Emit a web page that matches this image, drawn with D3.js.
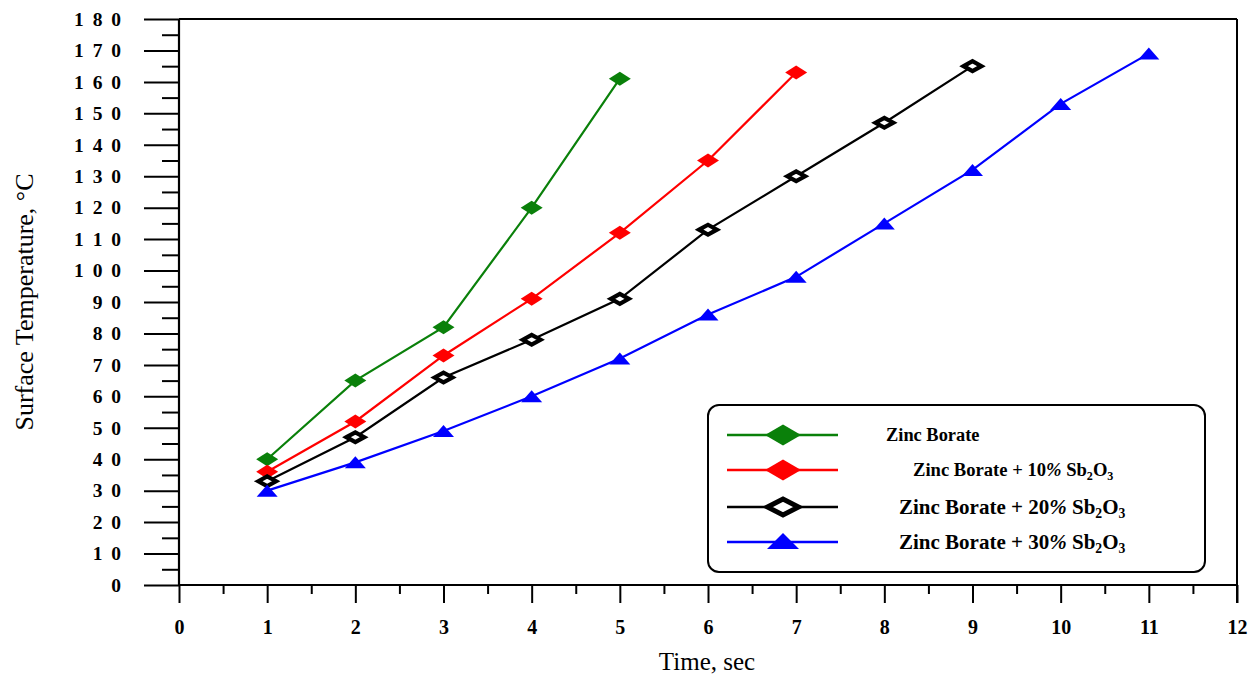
<!DOCTYPE html>
<html>
<head>
<meta charset="utf-8">
<script src="https://cdn.jsdelivr.net/npm/d3@7"></script>
<style>
  html, body { margin: 0; padding: 0; background: #fff; }
  svg { display: block; font-family: "Liberation Serif", "Times New Roman", serif; }
</style>
</head>
<body>
<svg id="chart" width="1248" height="677"></svg>
<script>
// Surface temperature vs time for zinc borate formulations
const timeSec = [1, 2, 3, 4, 5, 6, 7, 8, 9, 10, 11];
const zincBorate = [40, 65, 82, 120, 161];
const zb10 = [36, 52, 73, 91, 112, 135, 163];
const zb20 = [33, 47, 66, 78, 91, 113, 130, 147, 165];
const zb30 = [30, 39, 49, 60, 72, 86, 98, 115, 132, 153, 169];
const xTicks = [0, 1, 2, 3, 4, 5, 6, 7, 8, 9, 10, 11, 12];
const yTicks = [0, 10, 20, 30, 40, 50, 60, 70, 80, 90, 100, 110, 120, 130, 140, 150, 160, 170, 180];

const seriesNames = ["Zinc Borate", "Zinc Borate + 10% Sb2O3", "Zinc Borate + 20% Sb2O3", "Zinc Borate + 30% Sb2O3"];
const seriesValues = [zincBorate, zb10, zb20, zb30];
const seriesColors = ["#0a800a", "#ff0000", "#000000", "#0000ff"];
const seriesMarkers = ["diamond", "diamond", "hollowDiamond", "triangle"];

const svg = d3.select("#chart");
const x = d3.scaleLinear().domain([0, 12]).range([179, 1237]);
const y = d3.scaleLinear().domain([0, 180]).range([585, 19]);

// frame: top and right edges
svg.append("line").attr("x1", x(0)).attr("x2", x(12)).attr("y1", y(180)).attr("y2", y(180))
  .attr("stroke", "#000").attr("stroke-width", 2);
svg.append("line").attr("x1", x(12)).attr("x2", x(12)).attr("y1", y(180)).attr("y2", y(0) + 18)
  .attr("stroke", "#000").attr("stroke-width", 2);

// y axis: major ticks with spaced digit labels, minor ticks at half steps
const yMinor = d3.range(5, 180, 10);
svg.append("g").attr("transform", `translate(${x(0)},0)`)
  .call(d3.axisLeft(y).tickValues(yMinor).tickSize(17).tickFormat(""))
  .call(g => g.select(".domain").remove())
  .call(g => g.selectAll("line").attr("stroke-width", 2));
const yAxis = svg.append("g").attr("transform", `translate(${x(0)},0)`)
  .call(d3.axisLeft(y).tickValues(yTicks).tickSize(35).tickPadding(23)
    .tickFormat(d => String(d).split("").join(" ")));
yAxis.select(".domain").attr("stroke-width", 2.2).attr("d", `M-0,${y(0)}V${y(180)}`);
yAxis.selectAll("line").attr("stroke-width", 2);
yAxis.selectAll("text").attr("font-size", 19.5).attr("font-weight", "bold")
  .attr("font-family", "Liberation Serif").attr("fill", "#000")
  .style("word-spacing", "4px");

// x axis
const xMinor = d3.range(0.5, 12, 1);
svg.append("g").attr("transform", `translate(0,${y(0)})`)
  .call(d3.axisBottom(x).tickValues(xMinor).tickSize(9).tickFormat(""))
  .call(g => g.select(".domain").remove())
  .call(g => g.selectAll("line").attr("stroke-width", 2));
const xAxis = svg.append("g").attr("transform", `translate(0,${y(0)})`)
  .call(d3.axisBottom(x).tickValues(xTicks).tickSize(18).tickPadding(17).tickFormat(d3.format("d")));
xAxis.select(".domain").attr("stroke-width", 2.2).attr("d", `M${x(0)},0H${x(12)}`);
xAxis.selectAll("line").attr("stroke-width", 2);
xAxis.selectAll("text").attr("font-size", 20).attr("font-weight", "bold")
  .attr("font-family", "Liberation Serif").attr("fill", "#000");

// axis titles
svg.append("text").attr("x", 707).attr("y", 670).attr("text-anchor", "middle")
  .attr("font-size", 25).text("Time, sec");
svg.append("text").attr("transform", "translate(33,302) rotate(-90)").attr("text-anchor", "middle")
  .attr("font-size", 26).text("Surface Temperature, \u00B0C");

// marker drawing
function drawMarker(g, type, color, w, h, sw) {
  if (type === "triangle") {
    g.append("path").attr("d", `M0,${-h / 2}L${w / 2},${h / 2}L${-w / 2},${h / 2}Z`).attr("fill", color);
  } else if (type === "hollowDiamond") {
    const hw = w / 2 - sw / 2, hh = h / 2 - sw / 2;
    g.append("path").attr("d", `M${-hw},0L0,${-hh}L${hw},0L0,${hh}Z`)
      .attr("fill", "#fff").attr("stroke", color).attr("stroke-width", sw);
  } else {
    g.append("path").attr("d", `M${-w / 2},0L0,${-h / 2}L${w / 2},0L0,${h / 2}Z`).attr("fill", color);
  }
}

const line = d3.line().x((d, i) => x(timeSec[i])).y(d => y(d));
seriesValues.forEach((vals, s) => {
  svg.append("path").datum(vals).attr("d", line).attr("fill", "none")
    .attr("stroke", seriesColors[s]).attr("stroke-width", 2.2);
});
seriesValues.forEach((vals, s) => {
  vals.forEach((v, i) => {
    const g = svg.append("g").attr("transform", `translate(${x(timeSec[i])},${y(v)})`);
    if (seriesMarkers[s] === "triangle") drawMarker(g, "triangle", seriesColors[s], 21, 12);
    else drawMarker(g, seriesMarkers[s], seriesColors[s], 22, 14, 4.2);
  });
});

// legend
svg.append("rect").attr("x", 708).attr("y", 405).attr("width", 497).attr("height", 167)
  .attr("rx", 11).attr("ry", 11).attr("fill", "#fff").attr("stroke", "#000").attr("stroke-width", 2);
const legendRows = [
  { y: 435, tx: 886, fs: 18.4 },
  { y: 470, tx: 913, fs: 18.6 },
  { y: 507, tx: 899, fs: 21 },
  { y: 542, tx: 899, fs: 21 }
];
legendRows.forEach((r, s) => {
  svg.append("line").attr("x1", 727).attr("x2", 838).attr("y1", r.y).attr("y2", r.y)
    .attr("stroke", seriesColors[s]).attr("stroke-width", 2.5);
  if (seriesMarkers[s] === "triangle") {
    const gt = svg.append("g").attr("transform", `translate(783,${r.y - 1})`);
    drawMarker(gt, "triangle", seriesColors[s], 32, 16);
  } else {
    const g = svg.append("g").attr("transform", `translate(783,${r.y})`);
    drawMarker(g, seriesMarkers[s], seriesColors[s], 36, 21, 5);
  }

  const t = svg.append("text").attr("x", r.tx).attr("y", r.y + r.fs * 0.33)
    .attr("font-size", r.fs).attr("font-weight", "bold");
  const name = seriesNames[s];
  const m = name.match(/^(.*?)(\d+)%(.*)Sb2O3$/);
  if (m) {
    t.append("tspan").text(m[1] + m[2]);
    t.append("tspan").attr("font-style", "italic").text("%");
    t.append("tspan").text(m[3] + "Sb");
    t.append("tspan").attr("font-size", r.fs * 0.65).attr("dy", r.fs * 0.2).text("2");
    t.append("tspan").attr("dy", -r.fs * 0.2).text("O");
    t.append("tspan").attr("font-size", r.fs * 0.65).attr("dy", r.fs * 0.2).text("3");
  } else {
    t.text(name);
  }
});
</script>
</body>
</html>
